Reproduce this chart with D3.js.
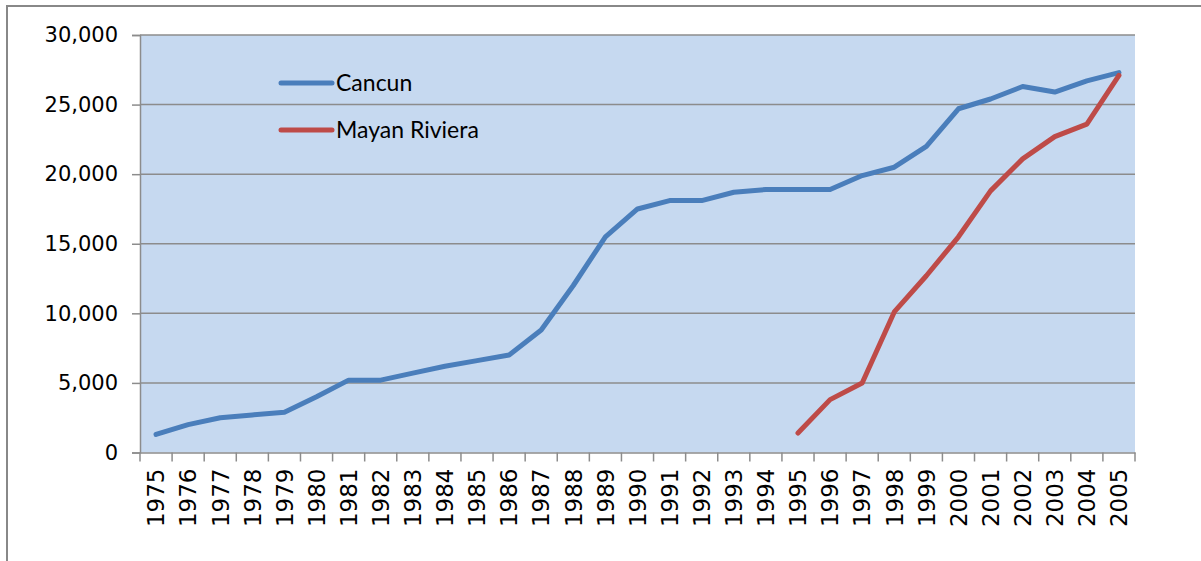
<!DOCTYPE html>
<html>
<head>
<meta charset="utf-8">
<script src="https://cdn.jsdelivr.net/npm/d3@7"></script>
<style>
  body { margin: 0; background: #fff; }
  .tick text { font-family: "DejaVu Sans", sans-serif; fill: #000; }
  .legend text { font-family: Lato, sans-serif; font-size: 23px; fill: #000; }
</style>
</head>
<body>
<svg id="viz" width="1201" height="561"></svg>
<script>
var years = ["1975","1976","1977","1978","1979","1980","1981","1982","1983","1984",
  "1985","1986","1987","1988","1989","1990","1991","1992","1993","1994","1995",
  "1996","1997","1998","1999","2000","2001","2002","2003","2004","2005"]

var cancun = [1300, 2000, 2500, 2700, 2900, 4000, 5200, 5200, 5700, 6200,
  6600, 7000, 8800, 12000, 15500, 17500, 18100, 18100, 18700, 18900, 18900,
  18900, 19900, 20500, 22000, 24700, 25400, 26300, 25900, 26700, 27300]

// Mayan Riviera only starts in 1995
var mayanYears = ["1995","1996","1997","1998","1999","2000","2001","2002","2003","2004","2005"]
var mayan = [1400, 3800, 5000, 10100, 12700, 15500, 18800, 21100, 22700, 23600, 27100]

var yTicks = [0, 5000, 10000, 15000, 20000, 25000, 30000]

var svg = d3.select("#viz")

// outer chart border
svg.append("rect")
  .attr("x", 7).attr("y", 6)
  .attr("width", 1300).attr("height", 700)
  .attr("fill", "none")
  .attr("stroke", "#888")
  .attr("stroke-width", 2)

var pLeft = 140, pRight = 1135, pTop = 35, pBottom = 452.5

var x = d3.scaleBand().domain(years).range([pLeft, pRight])
var y = d3.scaleLinear().domain([0, 30000]).range([pBottom, pTop])

svg.append("rect")
  .attr("x", pLeft).attr("y", pTop)
  .attr("width", pRight - pLeft).attr("height", pBottom - pTop)
  .attr("fill", "#c6d9f0")

// gridlines
svg.append("g")
  .selectAll("line")
  .data(yTicks.slice(1))
  .enter().append("line")
  .attr("x1", pLeft).attr("x2", pRight)
  .attr("y1", d => y(d)).attr("y2", d => y(d))
  .attr("stroke", "#8c8c8c")
  .attr("stroke-width", 1.5)

var yAxis = svg.append("g")
  .attr("transform", `translate(${pLeft},0)`)
  .call(d3.axisLeft(y).tickValues(yTicks).tickFormat(d3.format(",")).tickSize(8).tickPadding(14))
yAxis.selectAll("text").style("font-size", "21px")

var xAxis = svg.append("g")
  .attr("transform", `translate(0,${pBottom})`)
  .call(d3.axisBottom(x).tickSize(0).tickFormat(d => d))
xAxis.selectAll("text")
  .style("font-size", "23px")
  .attr("transform", "rotate(-90)")
  .attr("text-anchor", "end")
  .attr("x", -16)
  .attr("y", 0)
  .attr("dy", "0.36em")

// category boundary ticks
xAxis.selectAll(".bound")
  .data(years.concat(["end"]))
  .enter().append("line")
  .attr("class", "bound")
  .attr("x1", (d, i) => pLeft + i * x.step())
  .attr("x2", (d, i) => pLeft + i * x.step())
  .attr("y1", 0).attr("y2", 9)
  .attr("stroke", "#8c8c8c")
  .attr("stroke-width", 1.5)

svg.selectAll(".domain").attr("stroke", "#8c8c8c").attr("stroke-width", 1.5)
svg.selectAll(".tick line").attr("stroke", "#8c8c8c").attr("stroke-width", 1.5)

var line = d3.line()
  .x(d => x(d[0]) + x.bandwidth() / 2)
  .y(d => y(d[1]))

svg.append("path")
  .datum(years.map((d, i) => [d, cancun[i]]))
  .attr("d", line)
  .attr("fill", "none")
  .attr("stroke", "#4a7ebb")
  .attr("stroke-width", 5)
  .attr("stroke-linejoin", "round")
  .attr("stroke-linecap", "round")

svg.append("path")
  .datum(mayanYears.map((d, i) => [d, mayan[i]]))
  .attr("d", line)
  .attr("fill", "none")
  .attr("stroke", "#be4b48")
  .attr("stroke-width", 5)
  .attr("stroke-linejoin", "round")
  .attr("stroke-linecap", "round")

// legend
var legendItems = [["Cancun", "#4a7ebb"], ["Mayan Riviera", "#be4b48"]]
var legend = svg.append("g").attr("class", "legend")
legendItems.forEach((item, i) => {
  var ly = 83 + i * 47
  legend.append("line")
    .attr("x1", 281).attr("x2", 332)
    .attr("y1", ly).attr("y2", ly)
    .attr("stroke", item[1])
    .attr("stroke-width", 5)
    .attr("stroke-linecap", "round")
  legend.append("text")
    .attr("x", 336).attr("y", ly)
    .attr("dy", "0.35em")
    .text(item[0])
})
</script>
</body>
</html>
